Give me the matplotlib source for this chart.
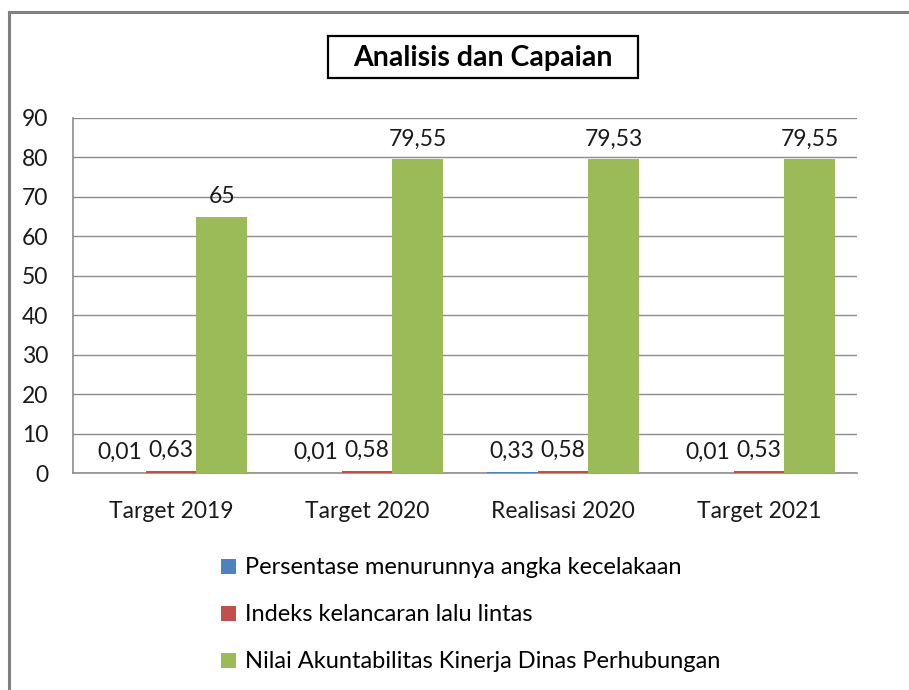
import matplotlib
matplotlib.use("Agg")
import matplotlib.pyplot as plt
import numpy as np
from matplotlib.patches import Patch, Rectangle
from matplotlib.lines import Line2D

plt.rcParams['font.family'] = ['Lato', 'DejaVu Sans']

categories = ["Target 2019", "Target 2020", "Realisasi 2020", "Target 2021"]
series_names = ["Persentase menurunnya angka kecelakaan",
                "Indeks kelancaran lalu lintas",
                "Nilai Akuntabilitas Kinerja Dinas Perhubungan"]
persentase = [0.01, 0.01, 0.33, 0.01]
indeks = [0.63, 0.58, 0.58, 0.53]
nilai = [65, 79.55, 79.53, 79.55]
label_texts = [["0,01", "0,01", "0,33", "0,01"],
               ["0,63", "0,58", "0,58", "0,53"],
               ["65", "79,55", "79,53", "79,55"]]
yticks = [0, 10, 20, 30, 40, 50, 60, 70, 80, 90]
colors = ["#4F81BD", "#C0504D", "#9BBB59"]

W, H = 909, 690
fig = plt.figure(figsize=(W / 100, H / 100), dpi=100)

# outer border (left and top edges visible)
fig.add_artist(Line2D([9 / W, 9 / W], [0, 1 - 12 / H], transform=fig.transFigure,
                      color="#808080", linewidth=2.2))
fig.add_artist(Line2D([9 / W, 1], [1 - 12 / H, 1 - 12 / H], transform=fig.transFigure,
                      color="#808080", linewidth=2.2))

ax = fig.add_axes([73 / W, 1 - 473 / H, (857 - 73) / W, (473 - 118) / H])
x = np.arange(len(categories))
bw = 0.26
all_series = [persentase, indeks, nilai]
for i, (vals, c) in enumerate(zip(all_series, colors)):
    xs = x + (i - 1) * bw
    ax.bar(xs, vals, width=bw, color=c, zorder=3)
    for xi, v, t in zip(xs, vals, label_texts[i]):
        ax.annotate(t, (xi, v), xytext=(0, 7), textcoords="offset points",
                    ha="center", va="bottom", fontsize=16.5, color="#1a1a1a")

ax.set_xlim(-0.5, len(categories) - 0.5)
ax.set_ylim(0, 90)
ax.set_yticks(yticks)
ax.set_xticks(x)
ax.set_xticklabels(categories)
ax.tick_params(axis="both", labelsize=16.5, length=0, colors="#1a1a1a")
ax.tick_params(axis="x", pad=20)
ax.tick_params(axis="y", pad=18)
ax.grid(axis="y", color="#8c8c8c", linewidth=1.0, zorder=0)
for s in ["top", "right"]:
    ax.spines[s].set_visible(False)
for s in ["left", "bottom"]:
    ax.spines[s].set_color("#8c8c8c")
    ax.spines[s].set_linewidth(1.2)

# title in box
fig.add_artist(Rectangle((328 / W, 1 - 78 / H), (638 - 328) / W, (78 - 36) / H,
                         transform=fig.transFigure, facecolor="white",
                         edgecolor="black", linewidth=1.6))
fig.text(483 / W, 1 - 58 / H, "Analisis dan Capaian", ha="center", va="center",
         fontsize=20.5, fontweight="bold", color="black")

handles = [Patch(facecolor=c, edgecolor="none") for c in colors]
fig.legend(handles, series_names, loc="upper left", bbox_to_anchor=(212 / W, 1 - 548 / H),
           frameon=False, fontsize=17, handlelength=0.6, handleheight=0.6,
           handletextpad=0.4, labelspacing=1.1, borderaxespad=0)

fig.savefig("out.png", dpi=100)
